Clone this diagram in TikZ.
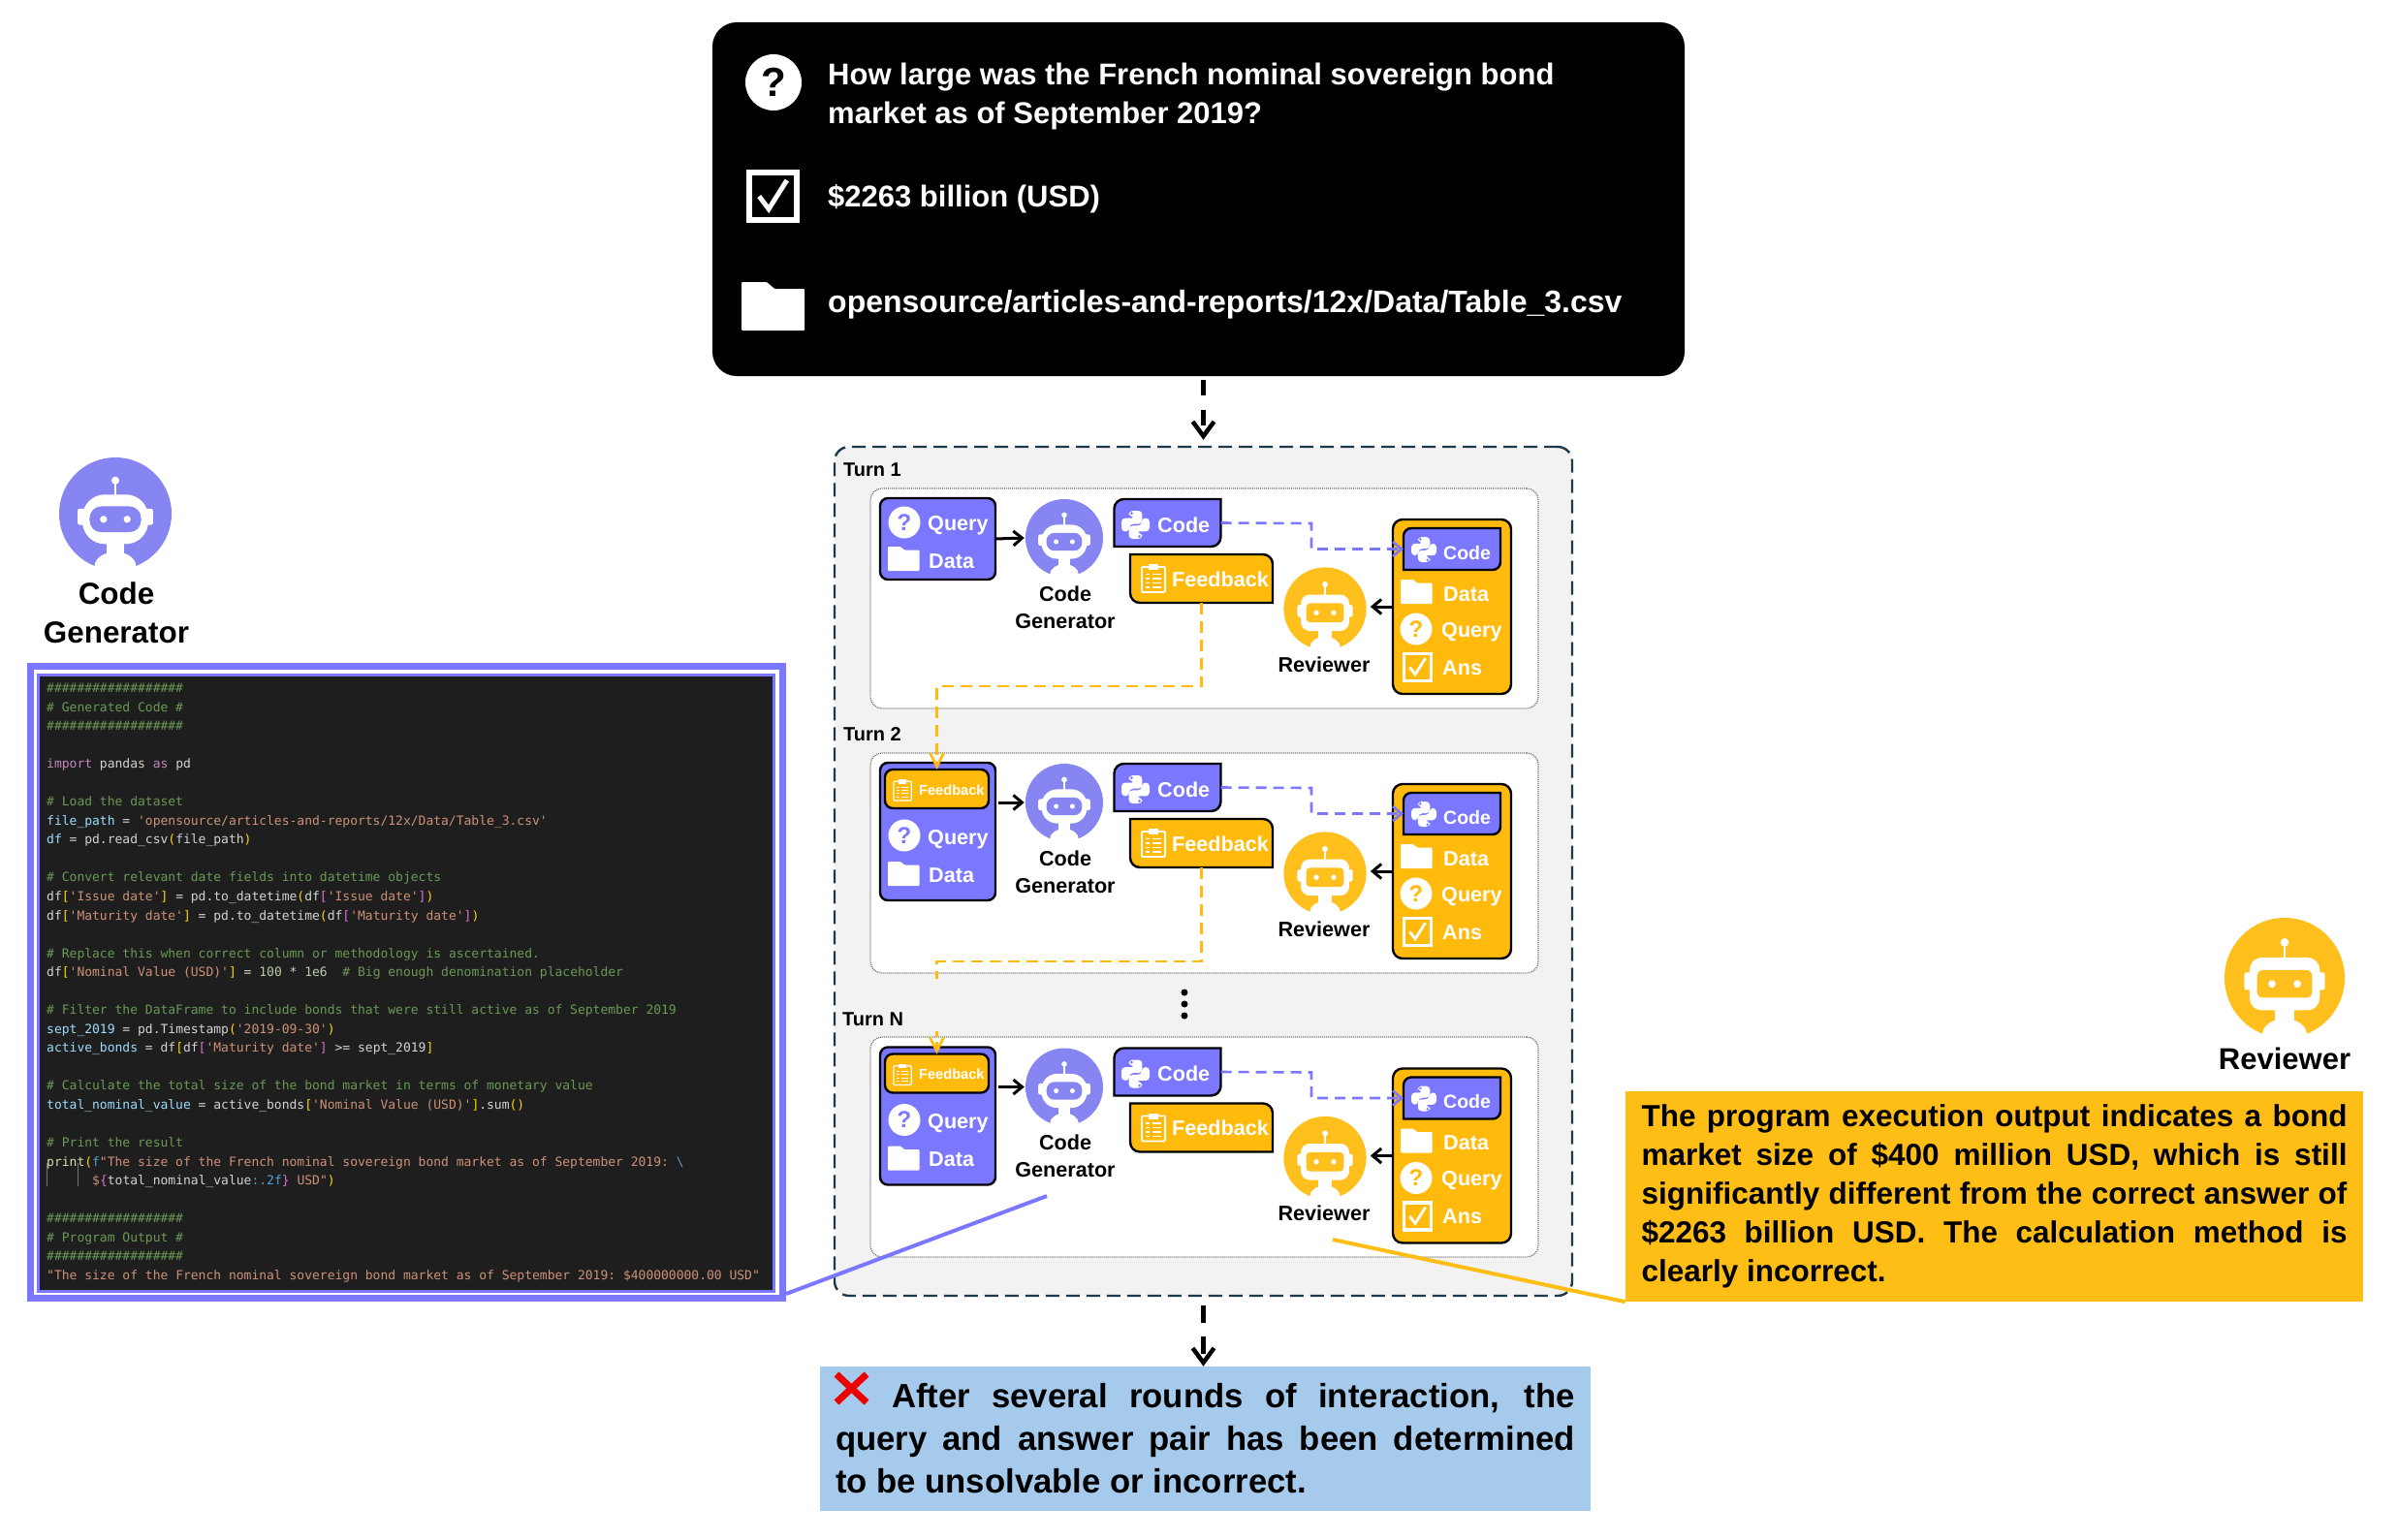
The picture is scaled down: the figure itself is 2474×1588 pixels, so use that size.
\documentclass[tikz,border=0pt]{standalone}
\usepackage{fontspec}
\setmainfont{Liberation Sans}
\newfontfamily\codefont{DejaVu Sans Mono}
\usetikzlibrary{arrows.meta}
\definecolor{coderColor}{HTML}{7B78FF}
\definecolor{coderBot}{HTML}{8685F2}
\definecolor{reviewColor}{HTML}{FFBA0C}
\definecolor{reviewBot}{HTML}{FFC01D}
\definecolor{noteColor}{HTML}{FFBE16}
\definecolor{verdictColor}{HTML}{A6CAEC}
\definecolor{panelEdge}{HTML}{1E3A4A}
\definecolor{codeBack}{HTML}{1E1E1E}
\definecolor{codeText}{HTML}{D4D4D4}
\definecolor{codeGreen}{HTML}{6A9955}
\definecolor{codeString}{HTML}{CE9178}
\definecolor{codeVar}{HTML}{9CDCFE}
\definecolor{codeKey}{HTML}{C586C0}
\definecolor{codeFunc}{HTML}{DCDCAA}
\definecolor{codeGold}{HTML}{FFD700}
\definecolor{codePink}{HTML}{DA70D6}
\definecolor{codeBlue}{HTML}{569CD6}
\definecolor{codeNum}{HTML}{B5CEA8}
\newcommand{\cmt}[1]{\textcolor{codeGreen}{#1}}
\newcommand{\cstr}[1]{\textcolor{codeString}{#1}}
\newcommand{\cvar}[1]{\textcolor{codeVar}{#1}}
\newcommand{\ckw}[1]{\textcolor{codeKey}{#1}}
\newcommand{\cfn}[1]{\textcolor{codeFunc}{#1}}
\newcommand{\cbrk}[1]{\textcolor{codeGold}{#1}}
\newcommand{\cpnk}[1]{\textcolor{codePink}{#1}}
\newcommand{\cblu}[1]{\textcolor{codeBlue}{#1}}
\newcommand{\cnum}[1]{\textcolor{codeNum}{#1}}
% name, x, y, radius, colour, head corner, face corner
\newcommand{\robotbot}[7]{
    \node[circle, fill=#5, inner sep=0pt, minimum size=2*#4 pt] (#1) at (#2,#3) {};
    \begin{scope}[shift={(#2,#3)}, x=#4pt, y=-#4pt]
        \fill[white] (0,.94) ellipse [x radius=.37, y radius=.26];
        \fill[white] (-.157,.5) rectangle (.157,.75);
        \fill[white, rounded corners=#6pt] (-.585,-.34) rectangle (.585,.54);
        \fill[white, rounded corners=2pt] (-.67,-.09) rectangle (.67,.2);
        \fill[white] (0,-.59) circle (.07);
        \draw[white, line width=.03*#4 pt] (0,-.59) -- (0,-.3);
        \fill[#5, rounded corners=#7pt] (-.457,-.13) rectangle (.457,.33);
        \fill[white] (-.21,.1) circle (.063);
        \fill[white] (.21,.1) circle (.063);
    \end{scope}
}
% name, x, y, radius, colour, font size
\newcommand{\askicon}[6]{
    \node[circle, fill=white, inner sep=0pt, minimum size=2*#4 pt, text=#5, font=\fontsize{#6pt}{#6pt}\selectfont\bfseries] (#1) at (#2,#3) {?};
}
% x, y, scale
\newcommand{\foldericon}[3]{
    \fill[white, rounded corners=1pt, shift={(#1,#2)}, scale=#3] (0,0) -- (26,0) -- (34,7) -- (65,7) -- (65,50) -- (0,50) -- cycle;
}
% x, y, size
\newcommand{\tickicon}[3]{
    \begin{scope}[shift={(#1,#2)}, scale=#3]
        \draw[white, line width=.11*#3 pt] (.05,.05) rectangle (.95,.95);
        \draw[white, line width=.09*#3 pt] (.24,.5) -- (.42,.74) -- (.76,.2);
    \end{scope}
}
% x, y, scale, colour
\newcommand{\snakeicon}[4]{
    \begin{scope}[shift={(#1,#2)}, scale=#3]
        \fill[white, rounded corners=4pt] (26,21) -- (26,0) -- (74,0) -- (74,47) -- (28,47) -- (28,74) -- (0,74) -- (0,26) -- (50,26) -- (50,21) -- cycle;
        \fill[white, rounded corners=4pt] (74,79) -- (74,100) -- (26,100) -- (26,53) -- (72,53) -- (72,26) -- (100,26) -- (100,74) -- (50,74) -- (50,79) -- cycle;
        \fill[#4] (36,9) circle (5);
        \fill[#4] (64,91) circle (5);
    \end{scope}
}
% x, y, scale
\newcommand{\clipicon}[3]{
    \begin{scope}[shift={(#1,#2)}, scale=#3, white]
        \draw[line width=1.6*#3 pt, rounded corners=1pt] (0,3) rectangle (24,29);
        \fill (7,0) rectangle (17,6);
        \foreach \rowy in {10.5,15,19.5,24}{
            \draw[line width=1.2*#3 pt] (4,\rowy) -- (8,\rowy);
            \draw[line width=1.2*#3 pt] (11,\rowy) -- (20,\rowy);
        }
    \end{scope}
}
% name, fill, corner NW and SE, corner NE and SW
\newcommand{\diagshape}[4]{
    \draw[line width=2.4pt, fill=#2] (#1.west) [rounded corners=#3] |- (#1.north) [rounded corners=#4] -| (#1.east) [rounded corners=#3] |- (#1.south) [rounded corners=#4] -| (#1.west) -- cycle;
}
% prefix, y offset
\newcommand{\turnrow}[2]{
    \robotbot{#1coder}{1098}{555+#2}{40}{coderBot}{16}{8}
    \node[chiplabel, anchor=base, text=black, align=center] (#1codername) at (1099,648+#2) {Code\\Generator};
    \node[chip, minimum width=110pt, minimum height=49pt] (#1code) at (1204.5,539.5+#2) {};
    \diagshape{#1code}{coderColor}{10pt}{0pt}
    \snakeicon{1157}{527+#2}{.29}{coderColor}
    \node[chiplabel] (#1codetext) at (1194,549+#2) {Code};
    \node[chip, minimum width=147pt, minimum height=50pt] (#1feed) at (1239.5,597+#2) {};
    \diagshape{#1feed}{reviewColor}{0pt}{10pt}
    \clipicon{1178}{582+#2}{1}
    \node[chiplabel] (#1feedtext) at (1209,605+#2) {Feedback};
    \robotbot{#1review}{1367}{628+#2}{42.6}{reviewBot}{9}{4}
    \node[chiplabel, text=black] (#1reviewname) at (1366,693+#2) [anchor=base] {Reviewer};
    \node[chip, draw, fill=reviewColor, rounded corners=10pt, minimum width=122pt, minimum height=180pt] (#1pack) at (1498,626+#2) {};
    \node[chip, minimum width=100pt, minimum height=43pt] (#1sub) at (1498,566.5+#2) {};
    \diagshape{#1sub}{coderColor}{8pt}{0pt}
    \snakeicon{1456}{554+#2}{.26}{coderColor}
    \node[chiplabel, font=\fontsize{19.5pt}{22pt}\selectfont\bfseries] (#1subtext) at (1489,577+#2) {Code};
    \foldericon{1445}{598+#2}{.5}
    \node[chiplabel] (#1packdata) at (1489,620+#2) {Data};
    \askicon{#1packask}{1461}{649+#2}{16.5}{reviewColor}{24}
    \node[chiplabel] (#1packquery) at (1487,657+#2) {Query};
    \tickicon{1447}{673+#2}{31}
    \node[chiplabel] (#1packans) at (1488,696+#2) {Ans};
    \coordinate (#1bend) at (1353,540+#2);
    \draw[coderflow] (#1code.east) -- (#1bend) |- (#1sub.west);
    \coordinate (#1reviewin) at ([yshift=2pt]#1review.east);
    \draw[solidflow, shorten >=4pt] (#1pack.west |- #1reviewin) -- (#1reviewin);
}
% prefix, y offset
\newcommand{\firstinput}[2]{
    \node[chip, fill=coderColor, rounded corners=8pt, draw, minimum width=119pt, minimum height=84pt] (#1input) at (967.5,556+#2) {};
    \askicon{#1ask}{933}{539+#2}{16.5}{coderColor}{24}
    \node[chiplabel] (#1query) at (957,547+#2) {Query};
    \foldericon{916}{564+#2}{.5}
    \node[chiplabel] (#1data) at (958,586+#2) {Data};
    \draw[solidflow, shorten >=1pt] (#1input.east) -- (#1coder.west);
}
% prefix, y offset
\newcommand{\laterinput}[2]{
    \node[chip, fill=coderColor, rounded corners=8pt, draw, minimum width=119pt, minimum height=142pt] (#1input) at (967.5,858+#2) {};
    \node[chip, fill=reviewColor, rounded corners=8pt, draw, minimum width=107pt, minimum height=40pt] (#1inbox) at (966.5,814+#2) {};
    \clipicon{922}{804+#2}{.76}
    \node[chiplabel, font=\fontsize{14.6pt}{16pt}\selectfont\bfseries] (#1inboxtext) at (948,820+#2) {Feedback};
    \askicon{#1ask}{933}{862+#2}{16.5}{coderColor}{24}
    \node[chiplabel] (#1query) at (957,871+#2) {Query};
    \foldericon{916}{889+#2}{.5}
    \node[chiplabel] (#1data) at (958,910+#2) {Data};
    \draw[solidflow, shorten <=3pt, shorten >=1pt] (#1input.east |- #1coder.west) -- (#1coder.west);
}
\begin{document}
\begin{tikzpicture}[
        x=1pt, y=-1pt,
        chip/.style={inner sep=0pt, outer sep=0pt, line width=2.4pt},
        chiplabel/.style={anchor=base west, inner sep=0pt, text=white, font=\fontsize{21.6pt}{28pt}\selectfont\bfseries},
        toptext/.style={anchor=base west, inner sep=0pt, text=white, font=\fontsize{31pt}{40pt}\selectfont\bfseries},
        turnlabel/.style={anchor=base west, inner sep=0pt, font=\fontsize{20pt}{24pt}\selectfont\bfseries},
        card/.style={draw=black!55, fill=white, rounded corners=12pt, line width=1.3pt, dash pattern=on 1pt off 1pt, inner sep=0pt, minimum width=689pt, minimum height=227pt},
        solidflow/.style={-{Straight Barb[length=9pt, width=15pt]}, line width=3pt},
        coderflow/.style={-{Straight Barb[length=9pt, width=15pt]}, draw=coderColor, line width=2.6pt, dash pattern=on 11pt off 7pt},
        reviewflow/.style={-{Straight Barb[length=14pt, width=14pt]}, draw=reviewColor, line width=2.6pt, dash pattern=on 12pt off 7pt},
        bigflow/.style={-{Straight Barb[length=15pt, width=22pt]}, line width=4.5pt},
        listingtext/.style={anchor=north west, inner sep=0pt, text=codeText, align=left, text width=745pt, font=\codefont\fontsize{13pt}{19.54pt}\selectfont}
    ]
    \useasboundingbox (0,0) rectangle (2474,1588);

    \node[fill=black, rounded corners=25pt, inner sep=0pt, minimum width=1003pt, minimum height=365pt] (question) at (1236.5,205.5) {};
    \askicon{questionask}{798}{85}{29}{black}{42}
    \node[toptext, align=left] (questiontext) at (854,127) {How large was the French nominal sovereign bond\\market as of September 2019?};
    \tickicon{770}{175}{55}
    \node[toptext] (answertext) at (854,213) {\$2263 billion (USD)};
    \foldericon{765}{291}{1}
    \node[toptext, font=\fontsize{32pt}{40pt}\selectfont\bfseries] (pathtext) at (854,322) {opensource/articles-and-reports/12x/Data/Table\_3.csv};

    \node[draw=panelEdge, fill=black!5, rounded corners=15pt, line width=2.4pt, dash pattern=on 14pt off 7pt, inner sep=0pt, minimum width=761pt, minimum height=876pt] (panel) at (1241.5,899) {};
    \draw[bigflow, dash pattern=on 16pt off 15pt, shorten <=4pt, shorten >=6pt] (panel.north |- question.south) -- (panel.north);

    \node[turnlabel] (turnone) at (870,491) {Turn 1};
    \node[card] (cardone) at (1242.5,617.5) {};
    \node[turnlabel] (turntwo) at (870,764) {Turn 2};
    \node[card] (cardtwo) at (1242.5,890.5) {};
    \node[turnlabel] (turnn) at (869,1058) {Turn N};
    \node[card] (cardn) at (1242.5,1183.5) {};
    \node[circle, fill=black, inner sep=0pt, minimum size=7pt] (dota) at (1222,1024) {};
    \node[circle, fill=black, inner sep=0pt, minimum size=7pt] (dotb) at (1222,1036) {};
    \node[circle, fill=black, inner sep=0pt, minimum size=7pt] (dotc) at (1222,1048) {};

    \turnrow{a}{0}
    \firstinput{a}{0}
    \turnrow{b}{273}
    \laterinput{b}{0}
    \turnrow{n}{566.5}
    \laterinput{n}{293.5}

    \coordinate (aturn) at (966.5,708);
    \draw[reviewflow] (afeed.south) |- (aturn) -- (binbox.north);
    \coordinate (bturn) at (966.5,992);
    \coordinate (bstop) at (966.5,1010);
    \draw[draw=reviewColor, line width=2.6pt, dash pattern=on 12pt off 7pt] (bfeed.south) |- (bturn) -- (bstop);
    \coordinate (nstart) at (966.5,1064);
    \draw[reviewflow, dash pattern=on 6pt off 5pt] (nstart) -- (ninbox.north);

    \robotbot{coderbig}{119}{530}{58}{coderBot}{23}{12}
    \node[anchor=base, align=center, inner sep=0pt, font=\fontsize{31.4pt}{40pt}\selectfont\bfseries] (codername) at (120,663) {Code\\Generator};

    \node[draw=coderColor, fill=white, line width=7pt, inner sep=0pt, minimum width=776pt, minimum height=652pt] (frame) at (419.5,1013.5) {};
    \node[draw=coderColor, fill=codeBack, line width=3pt, inner sep=0pt, minimum width=759pt, minimum height=636pt] (codewindow) at (418.5,1014.5) {};
    \draw[black!55, line width=.8pt] (48,1200) -- (48,1224);
    \draw[black!55, line width=.8pt] (80,1200) -- (80,1224);
    \node[listingtext] (listing) at (48,705) {\spaceskip=7.83pt\xspaceskip=7.83pt
        \cmt{\#\#\#\#\#\#\#\#\#\#\#\#\#\#\#\#\#\#}\\
        \cmt{\# Generated Code \#}\\
        \cmt{\#\#\#\#\#\#\#\#\#\#\#\#\#\#\#\#\#\#}\\
        \mbox{}\\
        \ckw{import} pandas \ckw{as} pd\\
        \mbox{}\\
        \cmt{\# Load the dataset}\\
        \cvar{file\_path} = \cstr{'opensource/articles-and-reports/12x/Data/Table\_3.csv'}\\
        \cvar{df} = pd.read\_csv\cbrk{(}file\_path\cbrk{)}\\
        \mbox{}\\
        \cmt{\# Convert relevant date fields into datetime objects}\\
        df\cbrk{[}\cstr{'Issue date'}\cbrk{]} = pd.to\_datetime\cbrk{(}df\cpnk{[}\cstr{'Issue date'}\cpnk{]}\cbrk{)}\\
        df\cbrk{[}\cstr{'Maturity date'}\cbrk{]} = pd.to\_datetime\cbrk{(}df\cpnk{[}\cstr{'Maturity date'}\cpnk{]}\cbrk{)}\\
        \mbox{}\\
        \cmt{\# Replace this when correct column or methodology is ascertained.}\\
        df\cbrk{[}\cstr{'Nominal Value (USD)'}\cbrk{]} = \cnum{100} * \cnum{1e6}\hspace*{15.66pt}\cmt{\# Big enough denomination placeholder}\\
        \mbox{}\\
        \cmt{\# Filter the DataFrame to include bonds that were still active as of September 2019}\\
        \cvar{sept\_2019} = pd.Timestamp\cbrk{(}\cstr{'2019-09-30'}\cbrk{)}\\
        \cvar{active\_bonds} = df\cbrk{[}df\cpnk{[}\cstr{'Maturity date'}\cpnk{]} >= sept\_2019\cbrk{]}\\
        \mbox{}\\
        \cmt{\# Calculate the total size of the bond market in terms of monetary value}\\
        \cvar{total\_nominal\_value} = active\_bonds\cbrk{[}\cstr{'Nominal Value (USD)'}\cbrk{]}.sum\cbrk{()}\\
        \mbox{}\\
        \cmt{\# Print the result}\\
        \cfn{print}\cbrk{(}\cblu{f}\cstr{"The size of the French nominal sovereign bond market as of September 2019: }\cblu{\textbackslash}\\
        \hspace*{47pt}\cstr{\$}\cpnk{\{}total\_nominal\_value\cblu{:.2f}\cpnk{\}}\hspace*{7.83pt}\cstr{USD"}\cbrk{)}\\
        \mbox{}\\
        \cmt{\#\#\#\#\#\#\#\#\#\#\#\#\#\#\#\#\#\#}\\
        \cmt{\# Program Output \#}\\
        \cmt{\#\#\#\#\#\#\#\#\#\#\#\#\#\#\#\#\#\#}\\
        \cstr{"The size of the French nominal sovereign bond market as of September 2019: \$400000000.00 USD"}
    };

    \robotbot{reviewbig}{2357}{1009}{62}{reviewBot}{13}{6}
    \node[anchor=base, inner sep=0pt, font=\fontsize{31pt}{36pt}\selectfont\bfseries] (reviewname) at (2357,1103) {Reviewer};
    \node[fill=noteColor, inner xsep=16.5pt, inner ysep=0pt, text width=728pt, minimum height=217pt, align=justify, font=\fontsize{31.5pt}{40pt}\selectfont\bfseries] (note) at (2057.5,1234.5) {The program execution output indicates a bond\linebreak market size of \$400 million USD, which is still\linebreak significantly different from the correct answer of\linebreak \$2263 billion USD. The calculation method is\linebreak clearly incorrect.};

    \node[fill=verdictColor, inner xsep=16pt, inner ysep=0pt, text width=763pt, minimum height=149pt, align=justify, font=\fontsize{34.7pt}{44pt}\selectfont\bfseries] (verdict) at (1243.5,1484.5) {\hspace*{58pt}After several rounds of interaction, the\linebreak query and answer pair has been determined\linebreak to be unsolvable or incorrect.};
    \draw[red!93!black, line width=7pt] (863,1418) -- (894,1447);
    \draw[red!93!black, line width=7pt] (894,1418) -- (863,1447);
    \draw[bigflow, dash pattern=on 18pt off 14pt, shorten <=9pt] (panel.south) -- (panel.south |- verdict.north);

    \coordinate (coderpoint) at (1080,1234);
    \draw[coderColor, line width=4pt] ([yshift=8pt]frame.south east) -- (coderpoint);
    \coordinate (reviewpoint) at (1375,1279);
    \draw[noteColor, line width=4pt] (note.south west) -- (reviewpoint);
\end{tikzpicture}
\end{document}
